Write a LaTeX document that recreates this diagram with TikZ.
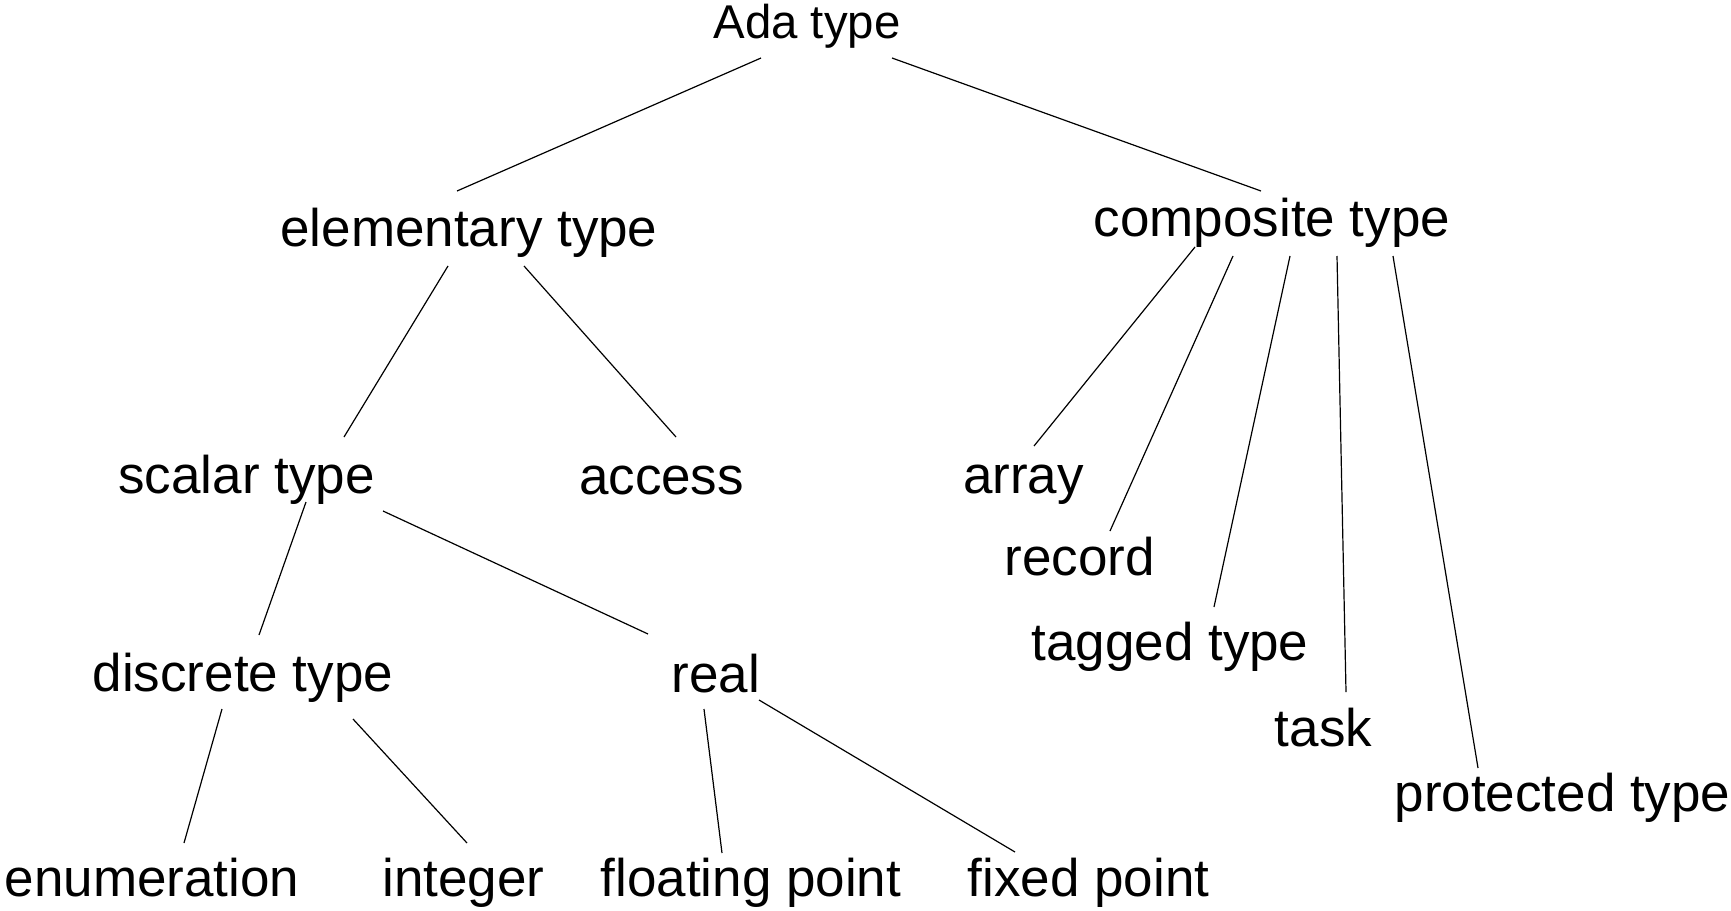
\documentclass[tikz,border=0pt]{standalone}
\usepackage{fontspec}
\setmainfont{Liberation Sans}
\begin{document}
\begin{tikzpicture}[x=1pt,y=-1pt,
  lbl/.style={inner sep=0pt,anchor=base,font=\fontsize{53}{60}\selectfont},
  rootlbl/.style={lbl,font=\fontsize{47.4}{56}\selectfont},
  edge/.style={line width=1.2pt,black}]
\useasboundingbox (0,0) rectangle (1731,910);
\node[rootlbl] (ada) at (807,38) {Ada type};
\node[lbl] (elem) at (469,246) {elementary type};
\node[lbl] (comp) at (1272,236) {composite type};
\node[lbl] (scalar) at (246.5,493) {scalar type};
\node[lbl] (access) at (661.5,494.5) {access};
\node[lbl] (array) at (1023.5,493) {array};
\node[lbl] (record) at (1079.5,575) {record};
\node[lbl] (tagged) at (1170,660) {tagged type};
\node[lbl] (task) at (1323.5,746) {task};
\node[lbl] (prot) at (1562.5,811) {protected type};
\node[lbl] (discrete) at (243,691) {discrete type};
\node[lbl] (real) at (716,692) {real};
\node[lbl] (enum) at (152,896) {enumeration};
\node[lbl] (integer) at (463.5,896) {integer};
\node[lbl] (floating) at (751,896) {floating point};
\node[lbl] (fixed) at (1088.5,896) {fixed point};

\draw[edge] ([shift={(-46,20)}]ada.base) -- ([shift={(-12,-55)}]elem.base);
\draw[edge] ([shift={(85,20)}]ada.base) -- ([shift={(-11,-45)}]comp.base);
\draw[edge] ([shift={(-21,20)}]elem.base) -- ([shift={(97.5,-56)}]scalar.base);
\draw[edge] ([shift={(55,20)}]elem.base) -- ([shift={(14.5,-57.5)}]access.base);
\draw[edge] ([shift={(-77,11)}]comp.base) -- ([shift={(10.5,-47)}]array.base);
\draw[edge] ([shift={(-39,20)}]comp.base) -- ([shift={(30.5,-44)}]record.base);
\draw[edge] ([shift={(18,20)}]comp.base) -- ([shift={(44,-53)}]tagged.base);
\draw[edge] ([shift={(65,20)}]comp.base) -- ([shift={(22.5,-54)}]task.base);
\draw[edge] ([shift={(121,20)}]comp.base) -- ([shift={(-84.5,-43)}]prot.base);
\draw[edge] ([shift={(59.5,9)}]scalar.base) -- ([shift={(16,-56)}]discrete.base);
\draw[edge] ([shift={(136.5,18)}]scalar.base) -- ([shift={(-68,-58)}]real.base);
\draw[edge] ([shift={(-21,18)}]discrete.base) -- ([shift={(32,-53)}]enum.base);
\draw[edge] ([shift={(110,28)}]discrete.base) -- ([shift={(3.5,-53)}]integer.base);
\draw[edge] ([shift={(-12,17)}]real.base) -- ([shift={(-29,-43)}]floating.base);
\draw[edge] ([shift={(43,8)}]real.base) -- ([shift={(-73.5,-44)}]fixed.base);
\end{tikzpicture}
\end{document}
